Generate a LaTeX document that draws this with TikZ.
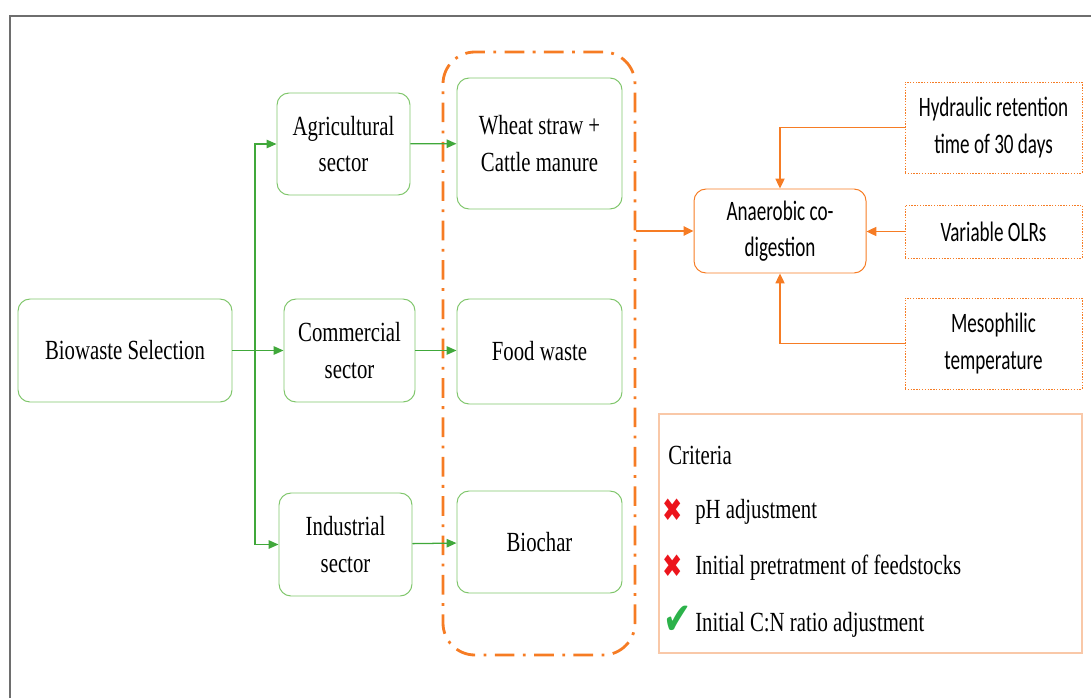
\documentclass[tikz,border=0pt]{standalone}
\usepackage{fontspec}
\usepackage{xcolor}
\setmainfont{Liberation Serif}[FakeStretch=0.75]
\newfontfamily\calibri{Carlito}[FakeStretch=0.68]
\newfontfamily\symbolfont{DejaVu Sans}[FakeStretch=0.75]
\usetikzlibrary{arrows.meta}

\definecolor{boxgreen}{RGB}{128,198,108}
\definecolor{arrowgreen}{RGB}{64,168,58}
\definecolor{floworange}{RGB}{246,124,36}
\definecolor{peach}{RGB}{249,200,168}
\definecolor{framegray}{RGB}{110,110,110}
\definecolor{crossred}{RGB}{236,20,28}
\definecolor{tickgreen}{RGB}{44,178,74}

\begin{document}
\begin{tikzpicture}[
	greenbox/.style={draw=boxgreen, line width=0.7pt, rounded corners=0.3cm, align=center, inner sep=0pt, font=\fontsize{19.7}{26}\selectfont},
	orangebox/.style={draw=floworange, line width=0.7pt, rounded corners=0.3cm, align=center, inner sep=0pt, font=\calibri\fontsize{20}{26}\selectfont},
	paramboxstyle/.style={draw=floworange, line width=0.6pt, dash pattern=on 1pt off 1pt, align=center, inner sep=0pt, minimum width=4.425cm, font=\calibri\fontsize{20}{26}\selectfont},
	greenarrow/.style={draw=arrowgreen, line width=0.9pt, -{Triangle[length=7pt,width=6pt]}},
	orangearrow/.style={draw=floworange, line width=0.9pt, -{Triangle[length=7pt,width=6.5pt]}},
	crit/.style={anchor=west, inner sep=0pt, font=\fontsize{19.7}{26}\selectfont}
]
	\useasboundingbox (0,0) rectangle (27.275,17.45);

	% Frame lines
	\draw[framegray, line width=0.8pt] (0.25,0) -- (0.25,17.05) -- (27.275,17.05);

	% Selection and sectors
	\node[greenbox, minimum width=5.35cm, minimum height=2.575cm] (select) at (3.125, 8.6875) {Biowaste Selection};
	\node[greenbox, minimum width=3.325cm, minimum height=2.55cm] (agri) at (8.5875, 13.85) {Agricultural\\sector};
	\node[greenbox, minimum width=3.275cm, minimum height=2.575cm] (comm) at (8.7375, 8.6875) {Commercial\\sector};
	\node[greenbox, minimum width=3.325cm, minimum height=2.575cm] (ind) at (8.6375, 3.8375) {Industrial\\sector};

	% Feedstocks
	\node[greenbox, minimum width=4.125cm, minimum height=3.275cm] (wheat) at (13.4875, 13.8625) {Wheat straw +\\Cattle manure};
	\node[greenbox, minimum width=4.125cm, minimum height=2.625cm] (food) at (13.4875, 8.6625) {Food waste};
	\node[greenbox, minimum width=4.125cm, minimum height=2.55cm] (biochar) at (13.4875, 3.9) {Biochar};
	\node[draw=floworange, line width=2pt, dash pattern=on 14pt off 6pt on 2pt off 6pt, rounded corners=0.8cm, minimum width=4.8cm, minimum height=15.075cm] (group) at (13.475, 8.6125) {};

	% Digestion and parameters
	\node[orangebox, minimum width=4.3cm, minimum height=2.1cm] (digest) at (19.5, 11.675) {Anaerobic co-\\digestion};
	\node[paramboxstyle, minimum height=2.275cm] (hrt) at (24.8375, 14.2625) {Hydraulic retention\\time of 30 days};
	\node[paramboxstyle, minimum height=1.325cm] (olr) at (24.8375, 11.6625) {Variable OLRs};
	\node[paramboxstyle, minimum height=2.275cm] (meso) at (24.8375, 8.8625) {Mesophilic\\temperature};

	% Green connectors
	\coordinate (branch) at (6.375, 8.6875);
	\draw[greenarrow] (select) -- (comm);
	\draw[greenarrow] (branch) |- (agri);
	\draw[greenarrow] (branch) |- (ind);
	\draw[greenarrow] (agri) -- (wheat);
	\draw[greenarrow] (comm.east) -- (comm.east -| food.west);
	\draw[greenarrow] (ind) -- (biochar);

	% Orange connectors
	\draw[orangearrow, line width=1.6pt] (group.east |- digest) -- (digest);
	\draw[orangearrow] (hrt.west) -| (digest.north);
	\draw[orangearrow] (olr.west) -- (olr.west -| digest.east);
	\draw[orangearrow] (meso.west) -| (digest.south);

	% Criteria
	\node[draw=peach, line width=0.9pt, minimum width=10.575cm, minimum height=5.975cm, inner sep=0pt] (criteria) at (21.7625, 4.1125) {};
	\node[crit] (crithead) at (16.7, 6.075) {Criteria};
	\node[text=crossred, font=\symbolfont\fontsize{23}{24}\selectfont, inner sep=0pt] (cross1) at (16.825, 4.7) {✖};
	\node[text=crossred, font=\symbolfont\fontsize{23}{24}\selectfont, inner sep=0pt] (cross2) at (16.825, 3.3) {✖};
	\node[text=tickgreen, font=\symbolfont\fontsize{32}{32}\selectfont, inner sep=0pt] (tick) at (16.95, 1.95) {✔};
	\node[crit] (crit1) at (17.375, 4.65) {pH adjustment};
	\node[crit] (crit2) at (17.375, 3.25) {Initial pretratment of feedstocks};
	\node[crit] (crit3) at (17.375, 1.825) {Initial C:N ratio adjustment};
\end{tikzpicture}
\end{document}
